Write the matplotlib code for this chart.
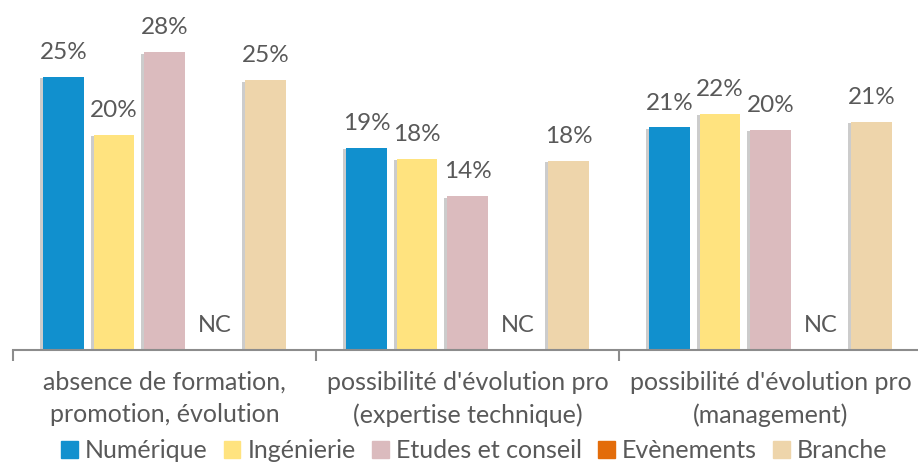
import numpy as np
import matplotlib
matplotlib.use("Agg")
import matplotlib.pyplot as plt
import matplotlib.patheffects as pe

plt.rcParams["font.family"] = ["Lato", "DejaVu Sans"]

# Données
categories = ["absence de formation,\npromotion, évolution",
              "possibilité d'évolution pro\n(expertise technique)",
              "possibilité d'évolution pro\n(management)"]
series = ["Numérique", "Ingénierie", "Etudes et conseil", "Evènements", "Branche"]
numerique = [25.4, 18.8, 20.7]
ingenierie = [20.0, 17.8, 22.0]
etudes = [27.7, 14.3, 20.5]
evenements = [None, None, None]  # NC
branche = [25.1, 17.6, 21.2]
labels = [["25%", "19%", "21%"],
          ["20%", "18%", "22%"],
          ["28%", "14%", "20%"],
          ["NC", "NC", "NC"],
          ["25%", "18%", "21%"]]
colors = ["#1190CE", "#FFE37F", "#DBBBBE", "#E36C0A", "#EED5AB"]

values = [numerique, ingenierie, etudes, evenements, branche]
grey = "#595959"
fs = 18

fig = plt.figure(figsize=(9.18, 4.63), dpi=100)
ax = fig.add_axes([13 / 918, (463 - 350) / 463, 909 / 918, 350 / 463])

x = np.arange(len(categories))
step = 1 / 6
width = 0.135
shadow = [pe.SimplePatchShadow(offset=(-2, -1), shadow_rgbFace="#9a9a9a", alpha=0.5), pe.Normal()]

for i, (name, vals, col) in enumerate(zip(series, values, colors)):
    pos = x + (i - 2) * step
    h = [v if v is not None else 0 for v in vals]
    bars = ax.bar(pos, h, width, color=col, label=name, zorder=2)
    for b, v in zip(bars, vals):
        if v is None:
            b.set_visible(False)
        else:
            b.set_path_effects(shadow)
    for p, v, lab in zip(pos, vals, labels[i]):
        if v is None:
            ax.text(p, 2.3, lab, ha="center", va="center", fontsize=fs - 1, color=grey)
        else:
            ax.annotate(lab, (p, v), xytext=(0, 10), textcoords="offset points",
                        ha="center", va="bottom", fontsize=fs - 0.5, color=grey)

ax.set_xlim(-0.5, 2.5)
ax.set_ylim(0, 350 / 10.75)
for s in ["top", "right", "left"]:
    ax.spines[s].set_visible(False)
ax.spines["bottom"].set_color("#8c8c8c")
ax.spines["bottom"].set_linewidth(1.5)
ax.set_yticks([])
ax.set_xticks([-0.5, 0.5, 1.5, 2.5])
ax.set_xticklabels([])
ax.tick_params(axis="x", length=8, width=1.5, color="#8c8c8c")
ax.set_xticks(x, minor=True)
ax.set_xticklabels(categories, minor=True, fontsize=fs, color=grey, linespacing=1.5)
ax.tick_params(axis="x", which="minor", length=0, pad=15)

handles = [plt.Rectangle((0, 0), 1, 1, color=c) for c in colors]
fig.legend(handles, series, loc="center", bbox_to_anchor=(0.517, 0.027), ncol=5,
           frameon=False, fontsize=fs, labelcolor=grey, handlelength=0.65, handleheight=0.65,
           handletextpad=0.3, columnspacing=0.65, borderpad=0)

fig.savefig("out.png", dpi=100)
